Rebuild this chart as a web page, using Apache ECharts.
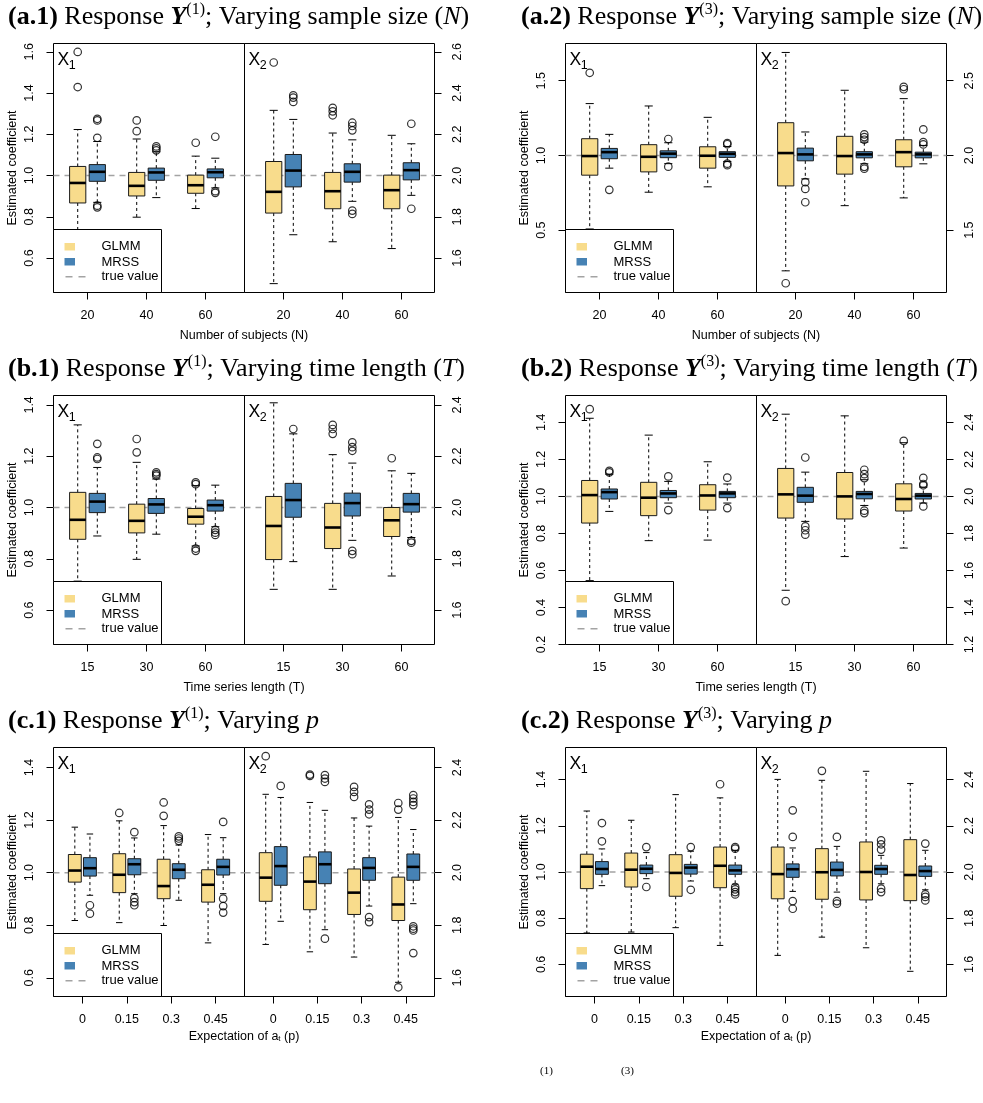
<!DOCTYPE html>
<html>
<head>
<meta charset="utf-8">
<script src="https://cdn.jsdelivr.net/npm/echarts@6.0.0/dist/echarts.min.js"></script>
<style>
html,body{margin:0;padding:0;background:#ffffff;}
#chart{width:983px;height:1103px;}
</style>
</head>
<body>
<div id="chart"></div>
<script>
// ---------------- categories ----------------
const catsN = ['20', '40', '60'];
const catsT = ['15', '30', '60'];
const catsP = ['0', '0.15', '0.3', '0.45'];

// ---------------- y tick labels ----------------
const yTicksA1L = [0.6, 0.8, 1.0, 1.2, 1.4, 1.6];
const yTicksA1R = [1.6, 1.8, 2.0, 2.2, 2.4, 2.6];
const yTicksA2L = [0.5, 1.0, 1.5];
const yTicksA2R = [1.5, 2.0, 2.5];
const yTicksB1L = [0.6, 0.8, 1.0, 1.2, 1.4];
const yTicksB1R = [1.6, 1.8, 2.0, 2.2, 2.4];
const yTicksB2L = [0.2, 0.4, 0.6, 0.8, 1.0, 1.2, 1.4];
const yTicksB2R = [1.2, 1.4, 1.6, 1.8, 2.0, 2.2, 2.4];
const yTicksC1L = [0.6, 0.8, 1.0, 1.2, 1.4];
const yTicksC1R = [1.6, 1.8, 2.0, 2.2, 2.4];
const yTicksC2L = [0.6, 0.8, 1.0, 1.2, 1.4];
const yTicksC2R = [1.6, 1.8, 2.0, 2.2, 2.4];

// ---------------- true values ----------------
const trueX1 = 1.0;
const trueX2 = 2.0;

// ---------------- box statistics: [lower whisker, Q1, median, Q3, upper whisker] ----------------
// outliers: [category index, value]
// (a.1) Y(1), varying N
const a1X1GLMM = [[0.69, 0.867, 0.964, 1.044, 1.223], [0.798, 0.901, 0.950, 1.015, 1.177], [0.840, 0.914, 0.953, 1.002, 1.094]];
const a1X1GLMMout = [[0, 1.429], [0, 1.599], [1, 1.267], [1, 1.215], [2, 1.159]];
const a1X1MRSS = [[0.870, 0.972, 1.018, 1.053, 1.165], [0.893, 0.977, 1.015, 1.036, 1.115], [0.940, 0.989, 1.016, 1.032, 1.084]];
const a1X1MRSSout = [[0, 1.275], [0, 1.267], [0, 1.183], [0, 0.854], [0, 0.846], [1, 1.141], [1, 1.132], [1, 1.122], [2, 1.188], [2, 0.924], [2, 0.916]];
const a1X2GLMM = [[1.476, 1.818, 1.921, 2.068, 2.316], [1.679, 1.839, 1.924, 2.015, 2.206], [1.646, 1.839, 1.929, 2.002, 2.195]];
const a1X2GLMMout = [[0, 2.548], [1, 2.328], [1, 2.311], [1, 2.292]];
const a1X2MRSS = [[1.713, 1.945, 2.024, 2.102, 2.272], [1.875, 1.968, 2.018, 2.057, 2.173], [1.904, 1.979, 2.026, 2.062, 2.154]];
const a1X2MRSSout = [[0, 2.389], [0, 2.378], [0, 2.357], [1, 2.256], [1, 2.240], [1, 2.219], [1, 1.830], [1, 1.814], [2, 2.251], [2, 1.839]];

// (a.2) Y(3), varying N
const a2X1GLMM = [[0.508, 0.868, 0.996, 1.112, 1.347], [0.754, 0.890, 0.991, 1.072, 1.331], [0.790, 0.915, 0.998, 1.058, 1.255]];
const a2X1GLMMout = [[0, 1.553]];
const a2X1MRSS = [[0.915, 0.978, 1.022, 1.047, 1.141], [0.945, 0.985, 1.012, 1.031, 1.085], [0.960, 0.987, 1.011, 1.025, 1.060]];
const a2X1MRSSout = [[0, 0.770], [1, 1.110], [1, 0.925], [2, 1.083], [2, 1.075], [2, 0.945], [2, 0.935]];
const a2X2GLMM = [[1.228, 1.796, 2.016, 2.219, 2.689], [1.664, 1.875, 1.996, 2.128, 2.436], [1.716, 1.924, 2.022, 2.105, 2.380]];
const a2X2GLMMout = [[0, 1.145], [2, 2.459], [2, 2.443]];
const a2X2MRSS = [[1.843, 1.964, 2.007, 2.049, 2.157], [1.944, 1.984, 2.007, 2.025, 2.089], [1.944, 1.984, 2.007, 2.022, 2.067]];
const a2X2MRSSout = [[0, 1.821], [0, 1.776], [0, 1.687], [1, 2.141], [1, 2.123], [1, 2.105], [1, 1.924], [1, 1.911], [2, 2.174], [2, 2.089], [2, 2.074]];

// (b.1) Y(1), varying T
const b1X1GLMM = [[0.713, 0.876, 0.952, 1.059, 1.322], [0.798, 0.901, 0.948, 1.013, 1.176], [0.850, 0.935, 0.964, 0.996, 1.085]];
const b1X1GLMMout = [[1, 1.267], [1, 1.215], [2, 1.098], [2, 1.091], [2, 0.840], [2, 0.831]];
const b1X1MRSS = [[0.889, 0.980, 1.023, 1.055, 1.156], [0.896, 0.977, 1.012, 1.035, 1.111], [0.925, 0.986, 1.009, 1.029, 1.087]];
const b1X1MRSSout = [[0, 1.248], [0, 1.195], [0, 1.189], [1, 1.137], [1, 1.130], [1, 1.124], [2, 0.913], [2, 0.902], [2, 0.893]];
const b1X2GLMM = [[1.681, 1.797, 1.928, 2.043, 2.408], [1.681, 1.840, 1.922, 2.016, 2.206], [1.733, 1.887, 1.950, 2.000, 2.143]];
const b1X2GLMMout = [[1, 2.322], [1, 2.306], [1, 2.287], [2, 2.192]];
const b1X2MRSS = [[1.789, 1.962, 2.029, 2.094, 2.287], [1.872, 1.967, 2.017, 2.056, 2.173], [1.883, 1.982, 2.013, 2.055, 2.133]];
const b1X2MRSSout = [[0, 2.306], [1, 2.254], [1, 2.235], [1, 2.221], [1, 1.831], [1, 1.818], [2, 1.870], [2, 1.863]];

// (b.2) Y(3), varying T
const b2X1GLMM = [[0.545, 0.856, 1.007, 1.086, 1.422], [0.761, 0.896, 0.993, 1.076, 1.331], [0.764, 0.926, 1.005, 1.063, 1.187]];
const b2X1GLMMout = [[0, 1.471]];
const b2X1MRSS = [[0.919, 0.986, 1.023, 1.040, 1.120], [0.964, 0.993, 1.016, 1.032, 1.081], [0.964, 0.993, 1.016, 1.027, 1.067]];
const b2X1MRSSout = [[0, 1.138], [0, 1.130], [1, 1.108], [1, 0.926], [2, 1.101], [2, 0.937]];
const b2X2GLMM = [[1.493, 1.883, 2.011, 2.151, 2.444], [1.675, 1.878, 2.000, 2.129, 2.435], [1.721, 1.921, 1.986, 2.068, 2.290]];
const b2X2GLMMout = [[0, 1.434], [2, 2.300]];
const b2X2MRSS = [[1.865, 1.968, 2.004, 2.049, 2.131], [1.951, 1.987, 2.013, 2.027, 2.090], [1.964, 1.986, 2.004, 2.016, 2.050]];
const b2X2MRSSout = [[0, 2.210], [0, 1.838], [0, 1.817], [0, 1.793], [1, 2.144], [1, 2.120], [1, 2.099], [1, 1.923], [1, 1.910], [2, 2.100], [2, 2.067], [2, 2.060], [2, 1.946]];

// (c.1) Y(1), varying p
const c1X1GLMM = [[0.818, 0.964, 1.008, 1.069, 1.173], [0.810, 0.924, 0.992, 1.072, 1.197], [0.799, 0.901, 0.949, 1.051, 1.179], [0.733, 0.888, 0.954, 1.011, 1.145]];
const c1X1GLMMout = [[1, 1.227], [2, 1.267], [2, 1.216]];
const c1X1MRSS = [[0.914, 0.987, 1.017, 1.057, 1.147], [0.920, 0.992, 1.032, 1.053, 1.132], [0.895, 0.977, 1.011, 1.034, 1.105], [0.920, 0.991, 1.022, 1.051, 1.133]];
const c1X1MRSSout = [[0, 0.876], [0, 0.844], [1, 1.154], [1, 0.903], [1, 0.888], [1, 0.876], [2, 1.138], [2, 1.130], [2, 1.121], [3, 1.193], [3, 0.901], [3, 0.873], [3, 0.848]];
const c1X2GLMM = [[1.727, 1.891, 1.981, 2.076, 2.298], [1.699, 1.859, 1.966, 2.060, 2.267], [1.679, 1.841, 1.924, 2.014, 2.208], [1.583, 1.818, 1.879, 1.983, 2.210]];
const c1X2GLMMout = [[0, 2.443], [1, 2.373], [1, 2.368], [2, 2.326], [2, 2.307], [2, 2.288], [3, 2.265], [3, 2.240], [3, 1.564]];
const c1X2MRSS = [[1.815, 1.952, 2.025, 2.099, 2.286], [1.783, 1.958, 2.032, 2.079, 2.237], [1.873, 1.971, 2.018, 2.057, 2.177], [1.882, 1.971, 2.022, 2.071, 2.164]];
const c1X2MRSSout = [[0, 2.330], [1, 2.371], [1, 2.358], [1, 2.345], [1, 1.749], [2, 2.260], [2, 2.240], [2, 2.222], [2, 1.831], [2, 1.812], [3, 2.295], [3, 2.282], [3, 2.269], [3, 2.257], [3, 1.796], [3, 1.787], [3, 1.780], [3, 1.694]];

// (c.2) Y(3), varying p
const c2X1GLMM = [[0.736, 0.928, 1.023, 1.077, 1.264], [0.740, 0.935, 1.010, 1.082, 1.224], [0.759, 0.895, 0.996, 1.075, 1.335], [0.682, 0.932, 1.027, 1.108, 1.321]];
const c2X1GLMMout = [[3, 1.380]];
const c2X1MRSS = [[0.941, 0.990, 1.013, 1.045, 1.100], [0.971, 0.993, 1.014, 1.030, 1.084], [0.961, 0.991, 1.019, 1.033, 1.090], [0.947, 0.990, 1.007, 1.030, 1.094]];
const c2X1MRSSout = [[0, 1.212], [0, 1.133], [1, 1.108], [1, 0.935], [2, 1.108], [2, 0.923], [3, 1.108], [3, 1.101], [3, 0.935], [3, 0.925], [3, 0.913], [3, 0.903]];
const c2X2GLMM = [[1.639, 1.884, 1.991, 2.108, 2.401], [1.718, 1.882, 1.999, 2.101, 2.397], [1.672, 1.879, 2.000, 2.130, 2.436], [1.570, 1.876, 1.987, 2.140, 2.383]];
const c2X2GLMMout = [[1, 2.438]];
const c2X2MRSS = [[1.916, 1.977, 2.012, 2.035, 2.104], [1.913, 1.983, 2.009, 2.043, 2.111], [1.949, 1.990, 2.013, 2.029, 2.072], [1.923, 1.981, 2.004, 2.026, 2.094]];
const c2X2MRSSout = [[0, 2.267], [0, 2.152], [0, 1.874], [0, 1.841], [1, 2.152], [1, 1.874], [1, 1.863], [2, 2.137], [2, 2.120], [2, 2.097], [2, 1.928], [2, 1.913], [3, 2.123], [3, 1.903], [3, 1.892], [3, 1.877]];

// ---------------- styling / layout ----------------
const YELLOW = '#F8DC8C';
const BLUE = '#4682B4';
const FONT = "'Liberation Sans', Arial, Helvetica, sans-serif";
const SERIF = "'Liberation Serif', 'Times New Roman', serif";
const COLS = [{L: 53.5, D: 244.5, R: 434.5, tx: 8}, {L: 565.5, D: 756.5, R: 946.5, tx: 521}];
const ROWS = [{T: 43.5, ty: 17}, {T: 395.5, ty: 369}, {T: 747.5, ty: 721}];
const GH = 249;
const LAYOUT3 = {left: [0.4237, 3.661], right: [0.339, 3.559], off: 0.166, bw: 0.275, xnameGap: 43};
const LAYOUT4 = {left: [0.35, 4.65], right: [0.35, 4.65], off: 0.17, bw: 0.29, xnameGap: 40};

const panels = [
  {id: 'a.1', col: 0, row: 0, cats: catsN, sup: '(1)', pre: 'sample size (', v: 'N', post: ')', xname: 'Number of subjects (N)',
   yMin: 0.433, yMax: 1.640, tL: yTicksA1L, tR: yTicksA1R,
   X1: [a1X1GLMM, a1X1GLMMout, a1X1MRSS, a1X1MRSSout], X2: [a1X2GLMM, a1X2GLMMout, a1X2MRSS, a1X2MRSSout]},
  {id: 'a.2', col: 1, row: 0, cats: catsN, sup: '(3)', pre: 'sample size (', v: 'N', post: ')', xname: 'Number of subjects (N)',
   yMin: 0.083, yMax: 1.749, tL: yTicksA2L, tR: yTicksA2R,
   X1: [a2X1GLMM, a2X1GLMMout, a2X1MRSS, a2X1MRSSout], X2: [a2X2GLMM, a2X2GLMMout, a2X2MRSS, a2X2MRSSout]},
  {id: 'b.1', col: 0, row: 1, cats: catsT, sup: '(1)', pre: 'time length (', v: 'T', post: ')', xname: 'Time series length (T)',
   yMin: 0.466, yMax: 1.4365, tL: yTicksB1L, tR: yTicksB1R,
   X1: [b1X1GLMM, b1X1GLMMout, b1X1MRSS, b1X1MRSSout], X2: [b1X2GLMM, b1X2GLMMout, b1X2MRSS, b1X2MRSSout]},
  {id: 'b.2', col: 1, row: 1, cats: catsT, sup: '(3)', pre: 'time length (', v: 'T', post: ')', xname: 'Time series length (T)',
   yMin: 0.2, yMax: 1.545, tL: yTicksB2L, tR: yTicksB2R,
   X1: [b2X1GLMM, b2X1GLMMout, b2X1MRSS, b2X1MRSSout], X2: [b2X2GLMM, b2X2GLMMout, b2X2MRSS, b2X2MRSSout]},
  {id: 'c.1', col: 0, row: 2, cats: catsP, sup: '(1)', pre: '', v: 'p', post: '', xname: 'Expectation of a{t|t} (p)',
   yMin: 0.529, yMax: 1.476, tL: yTicksC1L, tR: yTicksC1R,
   X1: [c1X1GLMM, c1X1GLMMout, c1X1MRSS, c1X1MRSSout], X2: [c1X2GLMM, c1X2GLMMout, c1X2MRSS, c1X2MRSSout]},
  {id: 'c.2', col: 1, row: 2, cats: catsP, sup: '(3)', pre: '', v: 'p', post: '', xname: 'Expectation of a{t|t} (p)',
   yMin: 0.461, yMax: 1.539, tL: yTicksC2L, tR: yTicksC2R,
   X1: [c2X1GLMM, c2X1GLMMout, c2X1MRSS, c2X1MRSSout], X2: [c2X2GLMM, c2X2GLMMout, c2X2MRSS, c2X2MRSSout]}
];

// ---------------- series builders ----------------
function boxSeries(name, stats, offset, color, gi, bw) {
  return {
    type: 'custom', name: name, xAxisIndex: gi, yAxisIndex: gi, z: 10, silent: true,
    data: stats.map((s, i) => [i + 1 + offset].concat(s)),
    encode: {x: 0, y: [1, 2, 3, 4, 5]},
    renderItem: function (params, api) {
      const xv = api.value(0);
      const lo = api.coord([xv, api.value(1)]);
      const q1 = api.coord([xv, api.value(2)]);
      const md = api.coord([xv, api.value(3)]);
      const q3 = api.coord([xv, api.value(4)]);
      const hi = api.coord([xv, api.value(5)]);
      const cx = lo[0];
      const w = api.size([bw, 0])[0];
      const wl = {stroke: '#000', lineWidth: 1, lineDash: [3, 3]};
      const sl = {stroke: '#000', lineWidth: 1};
      return {
        type: 'group', children: [
          {type: 'line', shape: {x1: cx, y1: q3[1], x2: cx, y2: hi[1]}, style: wl},
          {type: 'line', shape: {x1: cx, y1: q1[1], x2: cx, y2: lo[1]}, style: wl},
          {type: 'line', shape: {x1: cx - w / 4, y1: hi[1], x2: cx + w / 4, y2: hi[1]}, style: sl},
          {type: 'line', shape: {x1: cx - w / 4, y1: lo[1], x2: cx + w / 4, y2: lo[1]}, style: sl},
          {type: 'rect', shape: {x: cx - w / 2, y: q3[1], width: w, height: q1[1] - q3[1]},
           style: {fill: color, stroke: '#1a1a1a', lineWidth: 1}},
          {type: 'line', shape: {x1: cx - w / 2, y1: md[1], x2: cx + w / 2, y2: md[1]},
           style: {stroke: '#000', lineWidth: 2.6}}
        ]
      };
    }
  };
}

function outSeries(name, pts, offset, gi) {
  return {
    type: 'scatter', name: name, xAxisIndex: gi, yAxisIndex: gi, z: 12, silent: true,
    symbol: 'circle', symbolSize: 7.5,
    data: pts.map(p => [p[0] + 1 + offset, p[1]]),
    itemStyle: {color: 'rgba(0,0,0,0)', borderColor: '#000', borderWidth: 1.2}
  };
}

function trueLine(gi, v, xmin) {
  return {
    type: 'custom', name: 'true value', xAxisIndex: gi, yAxisIndex: gi, z: 1, silent: true,
    data: [[v]], encode: {y: 0},
    renderItem: function (params, api) {
      const cs = params.coordSys;
      const y = api.coord([xmin, api.value(0)])[1];
      return {type: 'line', shape: {x1: cs.x, y1: y, x2: cs.x + cs.width, y2: y},
              style: {stroke: '#a3a3a3', lineWidth: 1.5, lineDash: [6, 5]}};
    }
  };
}

// ---------------- assemble ----------------
const grids = [], xAxes = [], yAxes = [], series = [], graphics = [];
const txt = (extra) => Object.assign({fontFamily: FONT, fontSize: 12.5, fill: '#000'}, extra);

panels.forEach((p, pi) => {
  const C = COLS[p.col], R = ROWS[p.row];
  const lay = p.cats.length === 4 ? LAYOUT4 : LAYOUT3;
  const catVals = p.cats.map((c, i) => i + 1);
  ['X1', 'X2'].forEach((sub, si) => {
    const gi = pi * 2 + si;
    const left = si === 0 ? C.L : C.D;
    const right = si === 0 ? C.D : C.R;
    grids.push({left: left, top: R.T, width: right - left, height: GH, show: true,
                borderColor: '#000', borderWidth: 1, backgroundColor: 'transparent'});
    const xr = si === 0 ? lay.left : lay.right;
    xAxes.push({
      type: 'value', gridIndex: gi, min: xr[0], max: xr[1],
      axisLine: {show: false}, splitLine: {show: false},
      axisTick: {show: true, customValues: catVals, length: 7, lineStyle: {color: '#000', width: 1}},
      axisLabel: {show: true, customValues: catVals, formatter: v => p.cats[Math.round(v) - 1],
                  margin: 17, fontSize: 12.5, color: '#000', fontFamily: FONT}
    });
    const shift = si === 0 ? 0 : 1;
    const ticks = si === 0 ? p.tL : p.tR;
    const ya = {
      type: 'value', gridIndex: gi, position: si === 0 ? 'left' : 'right',
      min: p.yMin + shift, max: p.yMax + shift,
      axisLine: {show: false}, splitLine: {show: false},
      axisTick: {show: true, customValues: ticks, length: 7, lineStyle: {color: '#000', width: 1}},
      axisLabel: {show: true, customValues: ticks, rotate: 90, formatter: v => v.toFixed(1),
                  margin: 17, fontSize: 12.5, color: '#000', fontFamily: FONT}
    };
    if (si === 0) {
      ya.name = 'Estimated coefficient';
      ya.nameLocation = 'middle';
      ya.nameRotate = 90;
      ya.nameGap = 34;
      ya.nameTextStyle = {fontSize: 12.5, color: '#000', fontFamily: FONT};
    }
    yAxes.push(ya);

    const d = p[sub];
    series.push(trueLine(gi, si === 0 ? trueX1 : trueX2, xr[0]));
    series.push(boxSeries('GLMM', d[0], -lay.off, YELLOW, gi, lay.bw));
    series.push(boxSeries('MRSS', d[2], lay.off, BLUE, gi, lay.bw));
    series.push(outSeries('GLMM', d[1], -lay.off, gi));
    series.push(outSeries('MRSS', d[3], lay.off, gi));

    // X1 / X2 label
    graphics.push({type: 'text', x: left + 4, y: R.T + 16.7, z: 50,
                   style: txt({text: 'X', fontSize: 17.5, verticalAlign: 'middle', align: 'left'})});
    graphics.push({type: 'text', x: left + 15.3, y: R.T + 22.5, z: 50,
                   style: txt({text: si === 0 ? '1' : '2', fontSize: 12.5, verticalAlign: 'middle', align: 'left'})});
  });

  // title
  let t = '{b|(' + p.id + ')} {r|Response }{y|Y}{s|' + p.sup + '}{r|; Varying ' + (p.pre ? p.pre : '') + '}{i|' + p.v + '}';
  if (p.post) t += '{r|' + p.post + '}';
  const base = {fontFamily: SERIF, fontSize: 26, lineHeight: 30, verticalAlign: 'middle'};
  graphics.push({type: 'text', x: C.tx, y: R.ty, z: 50, style: {
    text: t, fontFamily: SERIF, fontSize: 26, fill: '#000', align: 'left', verticalAlign: 'middle',
    rich: {
      b: Object.assign({}, base, {fontWeight: 'bold'}),
      r: Object.assign({}, base),
      y: Object.assign({}, base, {fontWeight: 'bold', fontStyle: 'italic'}),
      s: {fontFamily: SERIF, fontSize: 16, lineHeight: 16, verticalAlign: 'top'},
      i: Object.assign({}, base, {fontStyle: 'italic'})
    }
  }});

  // x axis name across the panel
  graphics.push({type: 'text', x: (C.L + C.R) / 2, y: R.T + GH + lay.xnameGap, z: 50, style: txt({
    text: p.xname, align: 'center', verticalAlign: 'middle',
    rich: {t: {fontFamily: FONT, fontSize: 8, lineHeight: 9, verticalAlign: 'bottom'}}
  })});

  // legend box (bottom-left of X1 panel)
  graphics.push({type: 'group', x: C.L, y: R.T + GH - 63, z: 60, children: [
    {type: 'rect', z: 60, shape: {x: 0, y: 0, width: 108, height: 63}, style: {fill: '#fff', stroke: '#000', lineWidth: 1}},
    {type: 'rect', z: 61, shape: {x: 11, y: 13.5, width: 10.5, height: 7.5}, style: {fill: YELLOW}},
    {type: 'rect', z: 61, shape: {x: 11, y: 28.5, width: 10.5, height: 7.5}, style: {fill: BLUE}},
    {type: 'line', z: 61, shape: {x1: 12, y1: 47.3, x2: 33, y2: 47.3}, style: {stroke: '#a3a3a3', lineWidth: 1.5, lineDash: [7, 6]}},
    {type: 'text', z: 61, x: 48, y: 17.3, style: txt({text: 'GLMM', fontSize: 13, verticalAlign: 'middle'})},
    {type: 'text', z: 61, x: 48, y: 32.7, style: txt({text: 'MRSS', fontSize: 13, verticalAlign: 'middle'})},
    {type: 'text', z: 61, x: 48, y: 47.3, style: txt({text: 'true value', fontSize: 13, verticalAlign: 'middle'})}
  ]});
});

// cut-off caption fragments at the bottom
graphics.push({type: 'text', x: 540, y: 1071, style: {text: '(1)', fontFamily: SERIF, fontSize: 11, fill: '#000', verticalAlign: 'middle'}});
graphics.push({type: 'text', x: 621, y: 1071, style: {text: '(3)', fontFamily: SERIF, fontSize: 11, fill: '#000', verticalAlign: 'middle'}});

const chart = echarts.init(document.getElementById('chart'), null, {renderer: 'canvas', width: 983, height: 1103});
chart.setOption({
  animation: false,
  backgroundColor: '#ffffff',
  grid: grids,
  xAxis: xAxes,
  yAxis: yAxes,
  series: series,
  graphic: {elements: graphics}
});
</script>
</body>
</html>
